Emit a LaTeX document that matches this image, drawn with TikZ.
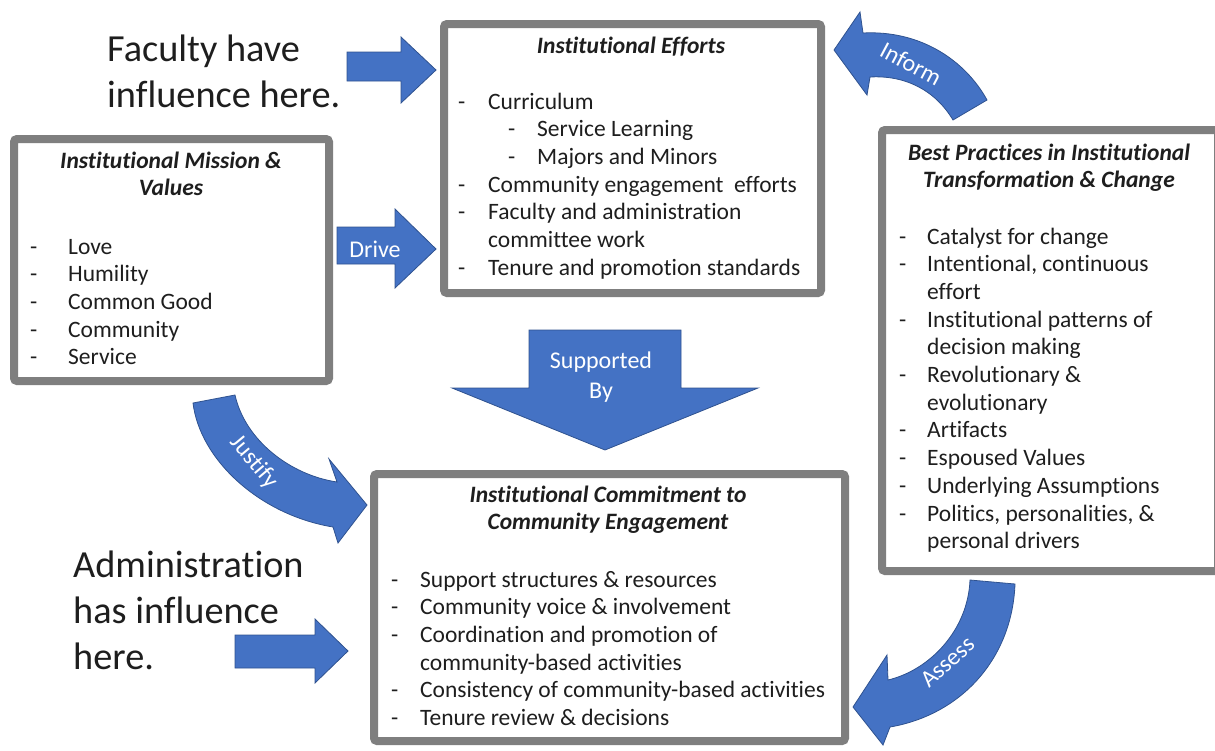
\documentclass[tikz,border=0pt]{standalone}
\usepackage{fontspec}
\setmainfont{Carlito}[Ligatures=NoCommon]
\definecolor{ablue}{HTML}{4472C4}
\definecolor{aborder}{HTML}{2F528F}
\definecolor{boxgray}{HTML}{7F7F7F}
\definecolor{txt}{HTML}{1E1E1E}
\tikzset{
  box/.style={draw=boxgray, line width=8pt, rounded corners=3pt, fill=white, inner sep=0pt},
  barrow/.style={fill=ablue, draw=aborder, line width=0.8pt, line join=miter},
  lst/.style={inner sep=0pt, anchor=base west, text=txt, font=\fontsize{23.5}{27.7}\selectfont},
  ttl/.style={inner sep=0pt, anchor=base, text=txt, font=\fontsize{23.5}{27}\selectfont\bfseries\itshape},
  big/.style={inner sep=0pt, anchor=base west, text=txt, font=\fontsize{38.3}{46}\selectfont},
  alab/.style={inner sep=0pt, text=white, font=\fontsize{24}{30}\selectfont},
}
\begin{document}
\begin{tikzpicture}[x=1pt,y=-1pt]
\useasboundingbox (0,0) rectangle (1215,750);
\clip (0,0) rectangle (1215,750);

% ---------- boxes ----------
\node[box, minimum width=315pt, minimum height=242pt] (mission) at (171.5,260) {};
\node[box, minimum width=377pt, minimum height=269pt] (efforts) at (632.5,158.5) {};
\node[box, minimum width=336pt, minimum height=441pt] (best) at (1050,350.5) {};
\node[box, minimum width=471pt, minimum height=267pt] (commit) at (609.5,607.5) {};

% ---------- mission ----------
\node[ttl] (missiont) at (171,168) {\begin{tabular}[t]{@{}c@{}}Institutional Mission \&\\Values\end{tabular}};
\node[lst] (missionl) at (30,254) {\begin{tabular}[t]{@{}p{38pt}@{}l@{}}
-&Love\\ -&Humility\\ -&Common Good\\ -&Community\\ -&Service\end{tabular}};

% ---------- efforts ----------
\node[ttl] (effortst) at (631,53) {Institutional Efforts};
\node[lst] (effortsl) at (458,109) {\begin{tabular}[t]{@{}p{30pt}@{}l@{}}
-&Curriculum\\
&\makebox[49pt][l]{\hspace{20pt}-}Service Learning\\
&\makebox[49pt][l]{\hspace{20pt}-}Majors and Minors\\
-&Community engagement\ \ efforts\\
-&Faculty and administration\\
&committee work\\
-&Tenure and promotion standards\end{tabular}};

% ---------- best practices ----------
\node[ttl] (bestt) at (1049,160) {\begin{tabular}[t]{@{}c@{}}Best Practices in Institutional\\Transformation \& Change\end{tabular}};
\node[lst] (bestl) at (899,244) {\begin{tabular}[t]{@{}p{28pt}@{}l@{}}
-&Catalyst for change\\
-&Intentional, continuous\\
&effort\\
-&Institutional patterns of\\
&decision making\\
-&Revolutionary \&\\
&evolutionary\\
-&Artifacts\\
-&Espoused Values\\
-&Underlying Assumptions\\
-&Politics, personalities, \&\\
&personal drivers\end{tabular}};

% ---------- commitment ----------
\node[ttl] (committ) at (608,502) {\begin{tabular}[t]{@{}c@{}}Institutional Commitment to\\Community Engagement\end{tabular}};
\node[lst] (commitl) at (391,587) {\begin{tabular}[t]{@{}p{29pt}@{}l@{}}
-&Support structures \& resources\\
-&Community voice \& involvement\\
-&Coordination and promotion of\\
&community-based activities\\
-&Consistency of community-based activities\\
-&Tenure review \& decisions\end{tabular}};

% ---------- free labels ----------
\node[big] (faculty) at (107,61) {\begin{tabular}[t]{@{}l@{}}Faculty have\\influence here.\end{tabular}};
\node[big] (admin) at (73,577) {\begin{tabular}[t]{@{}l@{}}Administration\\has influence\\here.\end{tabular}};

% ---------- straight block arrows ----------
\draw[barrow] (347,52) -- (401,52) -- (401,37) -- (436,70) -- (401,103) -- (401,81) -- (347,81) -- cycle;
\draw[barrow] (337,227) -- (395,227) -- (395,209) -- (436,249) -- (395,288) -- (395,264) -- (337,264) -- cycle;
\node[alab] (drive) at (375,249) {Drive};
\draw[barrow] (235,635) -- (315,635) -- (315,619) -- (348,651) -- (315,683) -- (315,668) -- (235,668) -- cycle;
\draw[barrow] (529,330) -- (681,330) -- (681,388) -- (758,388) -- (605,450) -- (452,388) -- (529,388) -- cycle;
\node[alab, align=center] (supp) at (601,377) {Supported\\By};

% ---------- curved block arrows ----------
% Inform
\draw[barrow] (863,33) .. controls (920,30) and (965,60) .. (987,100) -- (953,120)
  .. controls (935,90) and (905,75) .. (870,77) -- (867,95) -- (834,50) -- (860,12) -- cycle;
\node[alab, rotate=-28] (inform) at (911,64) {Inform};
% Justify
\draw[barrow] (235,395) .. controls (245,440) and (290,475) .. (337,482) -- (329,459) -- (367,505)
  -- (338,543) -- (333,527) .. controls (260,515) and (200,460) .. (193,403) -- cycle;
\node[alab, rotate=-50] (justify) at (254,462) {Justify};
% Assess
\draw[barrow] (970,580) .. controls (968,630) and (930,670) .. (888,680) -- (887,655) -- (853,707)
  -- (883,745) -- (890,727) .. controls (960,715) and (1012,660) .. (1015,584) -- cycle;
\node[alab, rotate=42] (assess) at (948,662) {Assess};
\end{tikzpicture}
\end{document}
